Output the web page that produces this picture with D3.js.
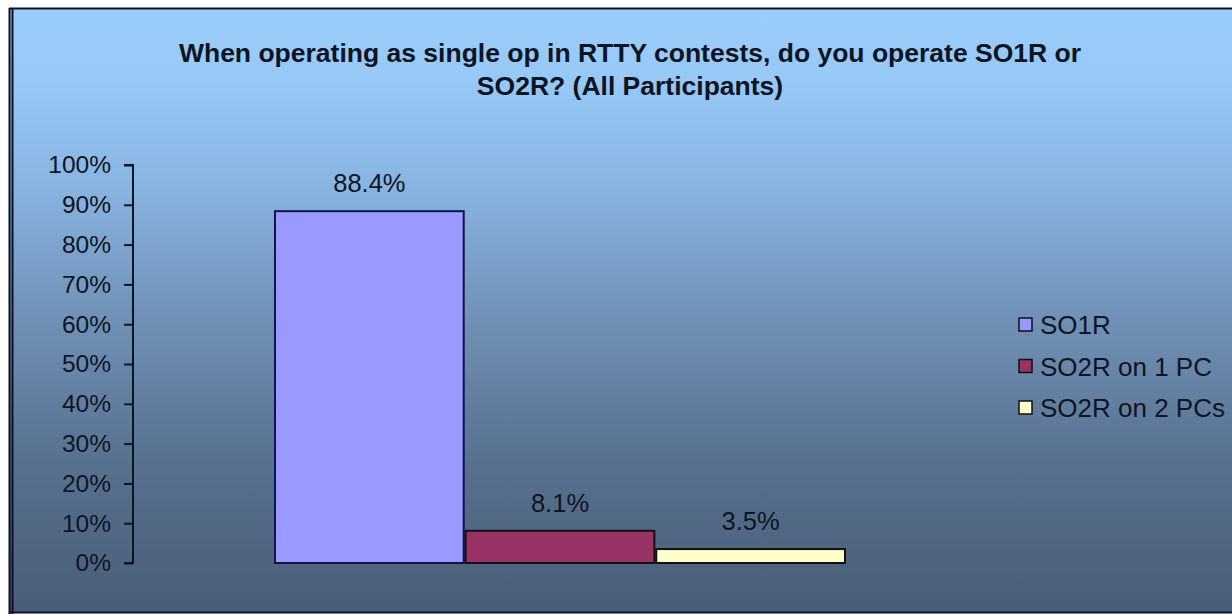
<!DOCTYPE html>
<html>
<head>
<meta charset="utf-8">
<script src="https://cdn.jsdelivr.net/npm/d3@7"></script>
<style>
  html, body { margin: 0; padding: 0; background: #ffffff; }
  svg { display: block; }
  text { font-family: "Liberation Sans", Arial, sans-serif; }
</style>
</head>
<body>
<svg id="chart" width="1232" height="614"></svg>
<script>
// Survey answers, share of all participants
const seriesNames = ["SO1R", "SO2R on 1 PC", "SO2R on 2 PCs"];
const seriesValues = [0.884, 0.081, 0.035];
const seriesColors = ["#9999ff", "#993366", "#ffffcc"];
const yTicks = [0, 0.1, 0.2, 0.3, 0.4, 0.5, 0.6, 0.7, 0.8, 0.9, 1.0];
const titleLines = [
  "When operating as single op in RTTY contests, do you operate SO1R or",
  "SO2R? (All Participants)"
];

const W = 1232, H = 614;
const svg = d3.select("#chart");

// Background gradient of the chart area
const defs = svg.append("defs");
const grad = defs.append("linearGradient")
  .attr("id", "bg").attr("x1", 0).attr("y1", 0).attr("x2", 0).attr("y2", 1);
[[0, "#9bcdfb"], [0.12, "#97c8f6"], [0.3, "#88b3e0"], [0.5, "#7193b9"],
 [0.75, "#58718f"], [1, "#4a5d77"]].forEach(([o, c]) =>
  grad.append("stop").attr("offset", o).attr("stop-color", c));

svg.append("rect").attr("x", 9).attr("y", 8).attr("width", W - 9).attr("height", 605)
  .attr("fill", "url(#bg)");

// Frame: top, bottom and a doubled left edge
const frame = svg.append("g").attr("stroke", "#0b1226").attr("fill", "none");
frame.append("line").attr("x1", 9).attr("x2", W).attr("y1", 8.5).attr("y2", 8.5).attr("stroke-width", 2);
frame.append("line").attr("x1", 9).attr("x2", W).attr("y1", 612.5).attr("y2", 612.5).attr("stroke-width", 2);
frame.append("line").attr("x1", 9.5).attr("x2", 9.5).attr("y1", 8).attr("y2", 614).attr("stroke-width", 2);
frame.append("line").attr("x1", 12.5).attr("x2", 12.5).attr("y1", 8).attr("y2", 614).attr("stroke-width", 2);

// Title
const title = svg.append("text")
  .attr("text-anchor", "middle")
  .attr("font-size", 26.5).attr("font-weight", "bold").attr("fill", "#0d1424");
titleLines.forEach((t, i) =>
  title.append("tspan").attr("x", 630).attr("y", 62 + i * 33).text(t));

// Scales
const y = d3.scaleLinear().domain([0, 1]).range([563, 165]);
const x = d3.scaleBand().domain(seriesNames).range([275, 845]).paddingInner(0.01);

// Value axis
const yAxis = d3.axisLeft(y).tickValues(yTicks).tickFormat(d3.format(".0%"))
  .tickSize(9).tickPadding(13);
const ax = svg.append("g").attr("transform", "translate(133,0)").call(yAxis);
ax.select(".domain").attr("stroke", "#0d1424").attr("stroke-width", 2)
  .attr("d", "M-9,165H0V563H-9");
ax.selectAll(".tick line").attr("stroke", "#0d1424").attr("stroke-width", 2);
ax.selectAll(".tick text").attr("font-size", 24.5).attr("fill", "#0d1424")
  .attr("font-family", "'Liberation Sans', Arial, sans-serif");

// Bars
svg.append("g").selectAll("rect").data(seriesValues).join("rect")
  .attr("x", (d, i) => x(seriesNames[i]))
  .attr("y", d => y(d))
  .attr("width", x.bandwidth())
  .attr("height", d => y(0) - y(d))
  .attr("fill", (d, i) => seriesColors[i])
  .attr("stroke", (d, i) => i === 0 ? "#14144a" : "#111111")
  .attr("stroke-width", 2);

// Value labels
svg.append("g").selectAll("text").data(seriesValues).join("text")
  .attr("x", (d, i) => x(seriesNames[i]) + x.bandwidth() / 2)
  .attr("y", d => y(d) - 19)
  .attr("text-anchor", "middle")
  .attr("font-size", 25.5).attr("fill", "#0d1424")
  .text(d => d3.format(".1%")(d));

// Legend
const lg = svg.append("g").attr("transform", "translate(1019,325)");
const item = lg.selectAll("g").data(seriesNames).join("g")
  .attr("transform", (d, i) => `translate(0,${i * 41.5})`);
item.append("rect").attr("x", 0).attr("y", -7).attr("width", 13).attr("height", 13)
  .attr("fill", (d, i) => seriesColors[i]).attr("stroke", "#111111").attr("stroke-width", 1.5);
item.append("text").attr("x", 21).attr("y", 9).attr("font-size", 26)
  .attr("fill", "#0d1424").text(d => d);
</script>
</body>
</html>
